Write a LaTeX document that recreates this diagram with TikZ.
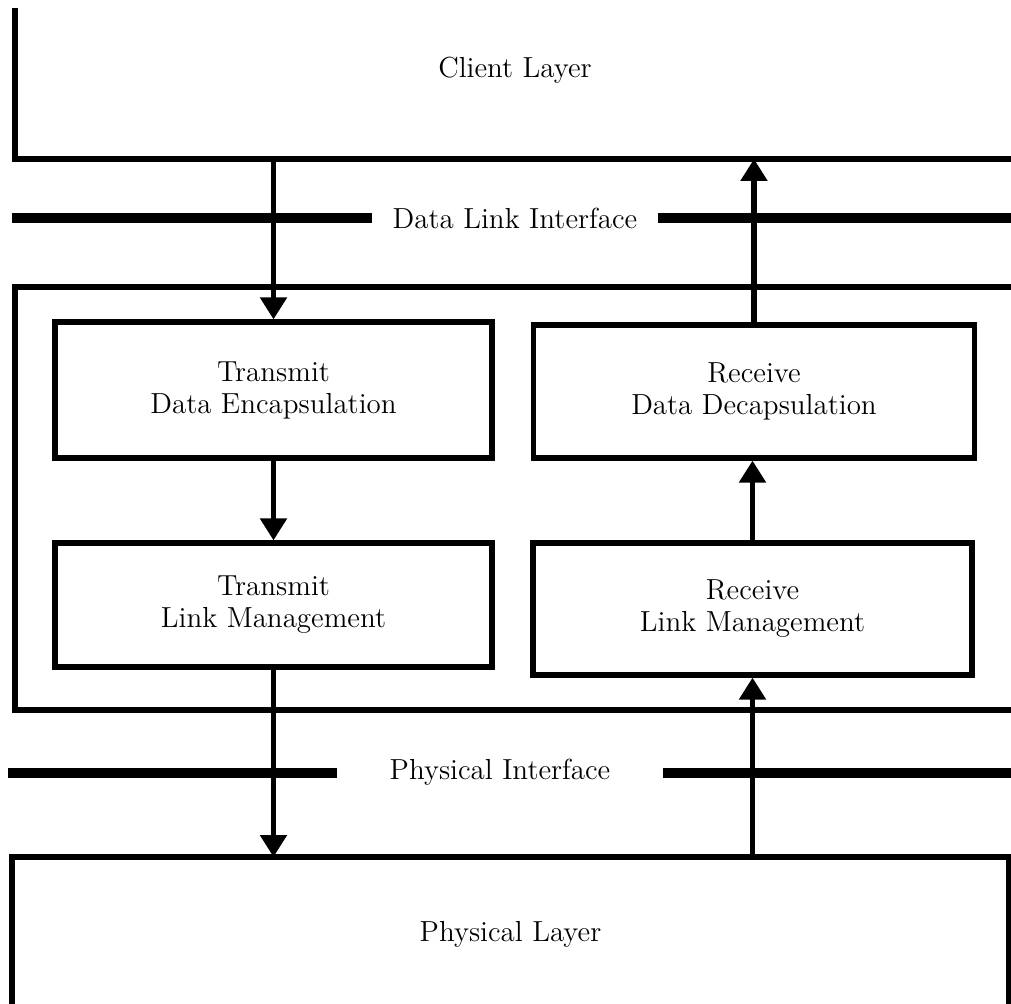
\documentclass[tikz,border=0pt]{standalone}
\usetikzlibrary{arrows.meta}
\begin{document}
\begin{tikzpicture}[x=0.5pt,y=-0.5pt,
  every node/.style={font=\fontsize{14.5}{16}\selectfont, align=center},
  frame/.style={line width=2.6pt},
  bar/.style={line width=5pt},
  blk/.style={draw, line width=2.6pt, rectangle, inner sep=0pt},
  area/.style={rectangle, inner sep=0pt, outer sep=0pt},
  arr/.style={line width=2.6pt, -{Triangle[width=13pt,length=11pt]}}
]
\useasboundingbox (0,0) rectangle (1011,1004);

% Client layer (open frame)
\node[area, minimum width=498pt, minimum height=75.5pt] (client) at (513,83.5) {};
\node (clienttext) at (515,70) {Client Layer};
\draw[frame] (client.north west) |- (client.south east);

% Data link interface
\node (dli) at (515,218) {Data Link Interface};
\coordinate (dl1) at (12,218);
\coordinate (dl2) at (372,218);
\coordinate (dl3) at (658,218);
\coordinate (dl4) at (1012,218);
\draw[bar] (dl1) -- (dl2);
\draw[bar] (dl3) -- (dl4);

% Middle frame
\coordinate (m1) at (1012,287);
\coordinate (m2) at (15,710);
\coordinate (m3) at (1012,710);
\draw[frame] (m1) -| (m2) -- (m3);

% Boxes
\node[blk, minimum width=218.5pt, minimum height=68pt] (tde) at (273.5,390) {Transmit\\Data Encapsulation};
\node[blk, minimum width=220.5pt, minimum height=66.5pt] (rdd) at (754,391.5) {Receive\\Data Decapsulation};
\node[blk, minimum width=218.5pt, minimum height=62pt] (tlm) at (273.5,605) {Transmit\\Link Management};
\node[blk, minimum width=219.5pt, minimum height=66pt] (rlm) at (752.5,609) {Receive\\Link Management};

% Physical interface
\node (phi) at (500,772) {Physical Interface};
\coordinate (p1) at (8,773);
\coordinate (p2) at (337,773);
\coordinate (p3) at (663,773);
\coordinate (p4) at (1012,773);
\draw[bar] (p1) -- (p2);
\draw[bar] (p3) -- (p4);

% Physical layer
\node[area, minimum width=498.5pt, minimum height=77pt] (phys) at (510.5,934) {Physical Layer};
\draw[frame] (phys.south west) |- (phys.north east) -- (phys.south east);

% Arrows
\draw[arr] (tde.north |- client.south) -- (tde.north);
\draw[arr] (tde.south) -- (tlm.north);
\draw[arr] (tlm.south) -- (tlm.south |- phys.north);
\draw[arr] (rlm.south |- phys.north) -- (rlm.south);
\draw[arr] (rlm.north) -- (rlm.north |- rdd.south);
\draw[arr] (rdd.north) -- (rdd.north |- client.south);
\end{tikzpicture}
\end{document}
